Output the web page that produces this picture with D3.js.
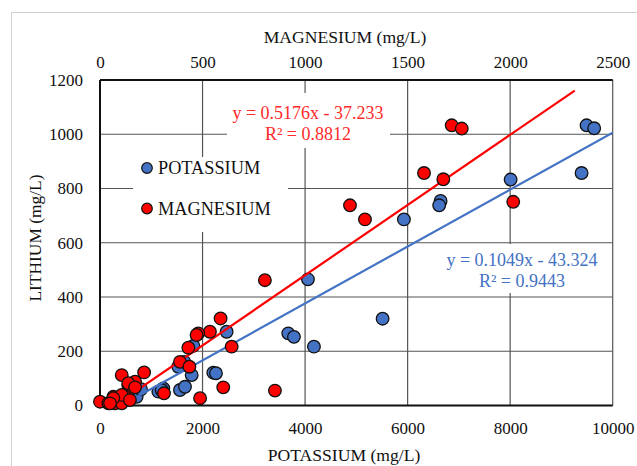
<!DOCTYPE html>
<html>
<head>
<meta charset="utf-8">
<script src="https://cdn.jsdelivr.net/npm/d3@7"></script>
<style>
  body { margin: 0; background: #fff; }
  text { font-family: "Liberation Serif", "Times New Roman", serif; }
</style>
</head>
<body>
<div id="chartDiv"></div>
<script>
// potassium series: [K mg/L, Li mg/L]
var potassium = [
  [9490, 1033], [9639, 1022], [9393, 857], [8009, 833], [6643, 754], [6616, 738],
  [5928, 686], [4056, 465], [5512, 320], [4173, 217], [3672, 266], [3783, 253],
  [2470, 272], [2210, 121], [2262, 119], [1788, 112], [1527, 143], [1644, 161],
  [1820, 220], [1560, 57], [1658, 69], [1235, 63], [1138, 51], [1203, 57],
  [64, 8], [390, 8], [98, 0], [455, 20], [585, 46], [650, 69], [715, 32],
  [618, 45], [585, 75], [250, 5], [300, 15], [800, 60]
]
// magnesium series: [Mg mg/L, Li mg/L]
var magnesium = [
  [1715, 1033], [1764, 1021], [1674, 834], [2015, 751], [1580, 857], [1219, 738],
  [1292, 686], [804, 462], [853, 55], [601, 67], [488, 27], [642, 217], [588, 321],
  [536, 272], [479, 266], [471, 260], [431, 213], [390, 161], [436, 143],
  [215, 122], [106, 112], [0, 14], [312, 45], [138, 75], [138, 51], [122, 32],
  [65, 32], [73, 8], [41, 8], [106, 8], [171, 88], [138, 82], [171, 67],
  [106, 39], [65, 27], [49, 8], [146, 20]
]
// trendlines: slope, intercept, x range
var potTrend = {slope: 0.1049, intercept: -43.324, range: [0, 10000]}
var magTrend = {slope: 0.5176, intercept: -37.233, range: [0, 2315]}
var potEq = ["y = 0.1049x - 43.324", "R² = 0.9443"]
var magEq = ["y = 0.5176x - 37.233", "R² = 0.8812"]

var kTicks = [0, 2000, 4000, 6000, 8000, 10000]
var mgTicks = [0, 500, 1000, 1500, 2000, 2500]
var liTicks = [0, 200, 400, 600, 800, 1000, 1200]

var blue = "#4472C4", red = "#FF0000"
var margin = {top: 80, right: 24.3, bottom: 60.5, left: 100}
var W = 637, H = 466
var width = W - margin.left - margin.right,
    height = H - margin.top - margin.bottom

var svg = d3.select("#chartDiv").append("svg").attr("width", W).attr("height", H)

// outer chart border
svg.append("rect")
  .attr("x", 11.5).attr("y", 12.5).attr("width", 640).attr("height", 470)
  .style("fill", "none").style("stroke", "#d0d0d0")

var g = svg.append("g").attr("transform", "translate(" + margin.left + "," + margin.top + ")")

var xK = d3.scaleLinear().domain([0, 10000]).range([0, width])
var xMg = d3.scaleLinear().domain([0, 2500]).range([0, width])
var y = d3.scaleLinear().domain([0, 1200]).range([height, 0])

g.append("clipPath").attr("id", "plotClip").append("rect")
  .attr("width", width).attr("height", height)

// gridlines
g.selectAll(".hgrid").data(liTicks).enter().append("line")
  .attr("class", "hgrid")
  .attr("x1", 0).attr("x2", width)
  .attr("y1", function(d){ return y(d) }).attr("y2", function(d){ return y(d) })
  .style("stroke", "#555").style("stroke-width", "1.2px")
g.selectAll(".vgrid").data(kTicks).enter().append("line")
  .attr("class", "vgrid")
  .attr("x1", function(d){ return xK(d) }).attr("x2", function(d){ return xK(d) })
  .attr("y1", 0).attr("y2", height)
  .style("stroke", "#555").style("stroke-width", "1.2px")

// axes
var fmt = d3.format("d")
var xAxisBottom = d3.axisBottom(xK).tickValues(kTicks).tickFormat(fmt).tickSize(0).tickPadding(16)
var xAxisTop = d3.axisTop(xMg).tickValues(mgTicks).tickFormat(fmt).tickSize(0).tickPadding(12)
var yAxis = d3.axisLeft(y).tickValues(liTicks).tickFormat(fmt).tickSize(0).tickPadding(17)

function styleAxis(sel){
  sel.select(".domain").remove()
  sel.selectAll("text").style("font-size", "17px").style("fill", "#111")
    .style("font-family", "'Liberation Serif', serif")
}
g.append("g").attr("transform", "translate(0," + height + ")").call(xAxisBottom).call(styleAxis)
g.append("g").call(xAxisTop).call(styleAxis)
g.append("g").call(yAxis).call(styleAxis)

// frame
g.append("line").attr("x1", 0).attr("x2", width).attr("y1", height).attr("y2", height)
  .style("stroke", "#111").style("stroke-width", "2.2px")
g.append("line").attr("x1", 0).attr("x2", width).attr("y1", 0).attr("y2", 0)
  .style("stroke", "#111").style("stroke-width", "2px")
g.append("line").attr("x1", 0).attr("x2", 0).attr("y1", 0).attr("y2", height)
  .style("stroke", "#111").style("stroke-width", "2px")

// white label boxes hide the grid behind them
var boxes = [
  {x: 133, y: 157, w: 155, h: 75},
  {x: 227, y: 93, w: 163, h: 55},
  {x: 438, y: 244, w: 168, h: 49}
]
svg.selectAll(".labelBox").data(boxes).enter().append("rect")
  .attr("class", "labelBox")
  .attr("x", function(d){ return d.x }).attr("y", function(d){ return d.y })
  .attr("width", function(d){ return d.w }).attr("height", function(d){ return d.h })
  .style("fill", "#fff")

// points
var plot = g.append("g").attr("clip-path", "url(#plotClip)")
plot.selectAll(".potDot").data(potassium).enter().append("circle")
  .attr("class", "potDot")
  .attr("cx", function(d){ return xK(d[0]) })
  .attr("cy", function(d){ return y(d[1]) })
  .attr("r", 6.3)
  .style("fill", blue).style("stroke", "#111").style("stroke-width", "1.3px")
g.selectAll(".magDot").data(magnesium).enter().append("circle")
  .attr("class", "magDot")
  .attr("cx", function(d){ return xMg(d[0]) })
  .attr("cy", function(d){ return y(d[1]) })
  .attr("r", 6.3)
  .style("fill", red).style("stroke", "#111").style("stroke-width", "1.3px")

// trendlines
function trendLine(t, xs){
  return d3.line()
    .x(function(d){ return xs(d) })
    .y(function(d){ return y(t.slope * d + t.intercept) })(t.range)
}
plot.append("path").attr("d", trendLine(magTrend, xMg))
  .style("fill", "none").style("stroke", red).style("stroke-width", "2.2px")
plot.append("path").attr("d", trendLine(potTrend, xK))
  .style("fill", "none").style("stroke", blue).style("stroke-width", "2.2px")

// equations
svg.selectAll(".magEq").data(magEq).enter().append("text")
  .attr("class", "magEq")
  .attr("x", 308).attr("y", function(d, i){ return 119 + i * 21 })
  .attr("text-anchor", "middle")
  .style("font-size", "18px").style("fill", "#ff2a2a")
  .text(function(d){ return d })
svg.selectAll(".potEq").data(potEq).enter().append("text")
  .attr("class", "potEq")
  .attr("x", 522).attr("y", function(d, i){ return 266 + i * 21 })
  .attr("text-anchor", "middle")
  .style("font-size", "18px").style("fill", blue)
  .text(function(d){ return d })

// legend
var legendData = [{name: "POTASSIUM", color: blue}, {name: "MAGNESIUM", color: red}]
var legend = svg.selectAll(".legendItem").data(legendData).enter().append("g")
  .attr("class", "legendItem")
  .attr("transform", function(d, i){ return "translate(147," + (168 + i * 40.5) + ")" })
legend.append("circle").attr("r", 5.3)
  .style("fill", function(d){ return d.color }).style("stroke", "#111").style("stroke-width", "1.2px")
legend.append("text").attr("x", 11).attr("dy", "0.35em")
  .style("font-size", "18.3px").style("fill", "#111")
  .text(function(d){ return d.name })

// axis titles
svg.append("text").attr("x", 345).attr("y", 43).attr("text-anchor", "middle")
  .style("font-size", "17.6px").style("fill", "#111").text("MAGNESIUM (mg/L)")
svg.append("text").attr("x", 344).attr("y", 461).attr("text-anchor", "middle")
  .style("font-size", "17.6px").style("fill", "#111").text("POTASSIUM (mg/L)")
svg.append("text").attr("transform", "translate(41,238) rotate(-90)").attr("text-anchor", "middle")
  .style("font-size", "17.4px").style("fill", "#111").text("LITHIUM (mg/L)")
</script>
</body>
</html>
